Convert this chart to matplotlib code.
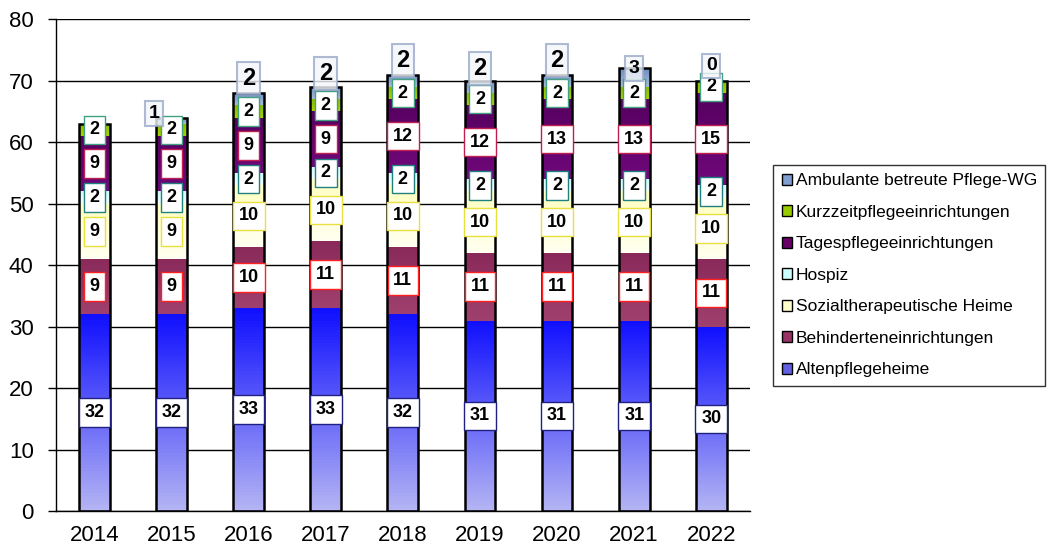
import numpy as np
import matplotlib
matplotlib.use("Agg")
import matplotlib.pyplot as plt
from matplotlib.colors import LinearSegmentedColormap

plt.rcParams['font.family'] = ['Liberation Sans', 'DejaVu Sans']

years = ['2014', '2015', '2016', '2017', '2018', '2019', '2020', '2021', '2022']

alten = [32, 32, 33, 33, 32, 31, 31, 31, 30]
behinderten = [9, 9, 10, 11, 11, 11, 11, 11, 11]
sozial = [9, 9, 10, 10, 10, 10, 10, 10, 10]
hospiz = [2, 2, 2, 2, 2, 2, 2, 2, 2]
tages = [9, 9, 9, 9, 12, 12, 13, 13, 15]
kurzzeit = [2, 2, 2, 2, 2, 2, 2, 2, 2]
ambulant = [0, 1, 2, 2, 2, 2, 2, 3, 0]

names = ['Altenpflegeheime', 'Behinderteneinrichtungen', 'Sozialtherapeutische Heime',
         'Hospiz', 'Tagespflegeeinrichtungen', 'Kurzzeitpflegeeinrichtungen',
         'Ambulante betreute Pflege-WG']
series = [alten, behinderten, sozial, hospiz, tages, kurzzeit, ambulant]

# (bottom colour, top colour) of the gradient, label box edge colour
grad = [('#b4b4f4', '#1010ff'), ('#a0406e', '#8a2a5a'), ('#fffff0', '#ffffc0'),
        ('#f0ffff', '#c8fcfc'), ('#70087a', '#560060'), ('#a8d400', '#88b800'),
        ('#a8bcdc', '#6a8cc0')]
legend_col = ['#6060e0', '#993366', '#ffffcc', '#ccffff', '#660066', '#99cc00', '#7f9fd0']
box_edge = ['#202080', '#ff2020', '#e8e040', '#208080', '#c02050', '#40a080', '#9aaac8']

fig = plt.figure(figsize=(10.56, 5.49), dpi=100)
ax = fig.add_axes([0.053, 0.069, 0.657, 0.896])

x = np.arange(len(years))
width = 0.4
bottom = np.zeros(len(years))
for i, vals in enumerate(series):
    bars = ax.bar(x, vals, width, bottom=bottom, color=legend_col[i],
                  edgecolor='none', zorder=2)
    cmap = LinearSegmentedColormap.from_list('g%d' % i, [grad[i][0], grad[i][1]])
    for b in bars:
        if b.get_height() <= 0:
            continue
        x0, y0 = b.get_x(), b.get_y()
        im = ax.imshow(np.linspace(0, 1, 64).reshape(-1, 1), cmap=cmap,
                       origin='lower', aspect='auto', zorder=2.5,
                       extent=[x0, x0 + b.get_width(), y0, y0 + b.get_height()])
        im.set_clip_path(b)
    bottom += np.array(vals)

totals = bottom.copy()
ax.bar(x, totals, width, facecolor='none', edgecolor='black', linewidth=1.8, zorder=3)

# value labels
bottom = np.zeros(len(years))
for i, vals in enumerate(series[:-1]):
    for j, v in enumerate(vals):
        ax.text(x[j], bottom[j] + v / 2, str(v), ha='center', va='center',
                fontsize=13, fontweight='bold', zorder=5,
                bbox=dict(boxstyle='square,pad=0.32', fc='white', ec=box_edge[i], lw=1))
    bottom += np.array(vals)

amb_dy = [0, 0.7, 2.4, 2.2, 2.3, 2.0, 2.3, 0.0, 2.4]
amb_dx = [0, -0.23, 0, 0, 0, 0, 0, 0, 0]
for j, v in enumerate(ambulant):
    if j == 0:
        continue
    ax.text(x[j] + amb_dx[j], totals[j] + amb_dy[j], str(v), ha='center', va='center',
            fontsize=17 if v == 2 else 14, fontweight='bold', zorder=6,
            bbox=dict(boxstyle='square,pad=0.2', fc='#f4f6fa', ec=box_edge[6], lw=1.5,
                      alpha=0.8))

ax.set_xlim(-0.5, len(years) - 0.5)
ax.set_ylim(0, 80)
ax.set_yticks(range(0, 81, 10))
ax.set_xticks(x)
ax.set_xticklabels(years)
ax.tick_params(axis='both', labelsize=16)
ax.tick_params(axis='x', length=0, pad=10)
ax.tick_params(axis='y', length=6, width=1, direction='out', pad=10)
ax.yaxis.grid(True, color='black', linewidth=1)
ax.set_axisbelow(True)
for s in ['top', 'right']:
    ax.spines[s].set_visible(False)
ax.spines['left'].set_linewidth(1)
ax.spines['bottom'].set_linewidth(1)

handles = [plt.Rectangle((0, 0), 1, 1, fc=legend_col[i], ec='black', lw=1)
           for i in range(len(names))][::-1]
leg = fig.legend(handles, names[::-1], loc='upper left',
                 bbox_to_anchor=(0.732, 0.70), fontsize=12.5, frameon=True,
                 fancybox=False, edgecolor='black', labelspacing=0.95,
                 handlelength=0.6, handleheight=0.6, handletextpad=0.2,
                 borderpad=0.5, borderaxespad=0)
leg.get_frame().set_linewidth(1)

fig.savefig('out.png', dpi=100)
